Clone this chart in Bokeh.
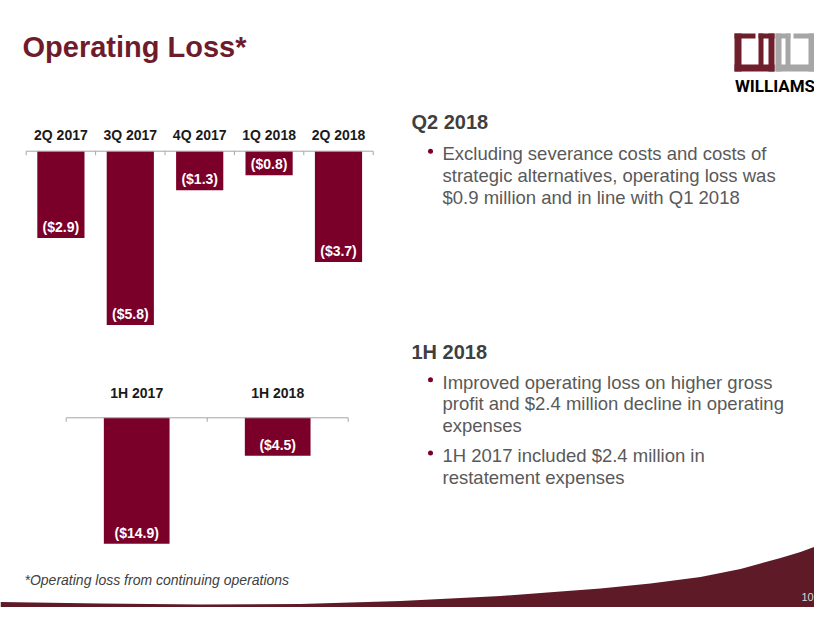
import math
from bokeh.plotting import figure
from bokeh.models import Range1d, ColumnDataSource
from bokeh.core.properties import value
from bokeh.embed import file_html
from bokeh.resources import INLINE

# ---------------- data ----------------
quarters = ["2Q 2017", "3Q 2017", "4Q 2017", "1Q 2018", "2Q 2018"]
quarter_loss = [-2.9, -5.8, -1.3, -0.8, -3.7]
halves = ["1H 2017", "1H 2018"]
half_loss = [-14.9, -4.5]

title = "Operating Loss*"
footnote = "*Operating loss from continuing operations"
page_no = "10"
logo_word = "WILLIAMS"
q2_heading = "Q2 2018"
q2_bullets = [["Excluding severance costs and costs of",
               "strategic alternatives, operating loss was",
               "$0.9 million and in line with Q1 2018"]]
h1_heading = "1H 2018"
h1_bullets = [["Improved operating loss on higher gross",
               "profit and $2.4 million decline in operating",
               "expenses"],
              ["1H 2017 included $2.4 million in",
               "restatement expenses"]]

# ---------------- style ----------------
FONT = value("Liberation Sans")
BAR = "#7B0029"
TITLE_C = "#6E1C2C"
SWOOSH = "#5E1B27"
LOGO_RED = "#6E1F2B"
LOGO_GRAY = "#A6A6A6"
AXIS_C = "#A6A6A6"
HEAD_C = "#3F3F3F"
BODY_C = "#595959"

W, H = 814, 607
PX_L, PX_R, PX_T, PX_B = 0, W, 0, H

p = figure(width=W, height=H, x_range=Range1d(PX_L, PX_R), y_range=Range1d(PX_B, PX_T),
           output_backend="svg", toolbar_location=None, min_border=0,
           x_axis_location=None, y_axis_location=None, outline_line_color=None,
           background_fill_color="white", border_fill_color="white")
p.grid.visible = False


def xr(v0, p0, v1, p1):
    k = (p1 - p0) / (v1 - v0)
    return Range1d(v0 + (PX_L - p0) / k, v0 + (PX_R - p0) / k)


def yr(v0, p0, v1, p1):
    k = (p1 - p0) / (v1 - v0)
    return Range1d(v0 + (PX_B - p0) / k, v0 + (PX_T - p0) / k)


p.extra_x_ranges = {"qx": xr(-0.5, 25.7, 4.5, 372.7), "hx": xr(-0.5, 65.7, 1.5, 347.7)}
p.extra_y_ranges = {"qy": yr(0, 150.7, -5.8, 324.5), "hy": yr(0, 417.3, -14.9, 543.3)}

# ---------------- swoosh footer ----------------
sw_x = [0, 100, 200, 300, 400, 500, 560, 600, 650, 700, 740, 760, 780, 800, 815, 830, 830, 0]
sw_y = [601.5, 603, 604, 603.5, 600.5, 595.5, 591, 588, 583, 576.5, 568.5, 563, 557.5, 551.5, 546, 540, 630, 630]
p.patch(sw_x, sw_y, fill_color=SWOOSH, line_color=None)


def bar_chart(cats, vals, xname, yname, width, cat_off, val_off):
    idx = list(range(len(cats)))
    src = ColumnDataSource(dict(x=idx, v=vals, cat=cats,
                                lab=["(${:.1f})".format(abs(v)) for v in vals]))
    p.vbar(x="x", top=0, bottom="v", width=width, source=src, fill_color=BAR,
           line_color=None, x_range_name=xname, y_range_name=yname)
    bounds = [i - 0.5 for i in range(len(cats) + 1)]
    p.segment(x0=bounds[0], y0=0, x1=bounds[-1], y1=0, line_color=AXIS_C, line_width=1,
              x_range_name=xname, y_range_name=yname)
    p.ray(x=bounds, y=[0] * len(bounds), length=4, length_units="screen", angle=-math.pi / 2,
          line_color=AXIS_C, line_width=1, x_range_name=xname, y_range_name=yname)
    p.text(x="x", y=0, text="cat", source=src, y_offset=cat_off, text_align="center",
           text_baseline="middle", text_font=FONT, text_font_style="bold",
           text_font_size="14px", text_color="#1A1A1A", x_range_name=xname, y_range_name=yname)
    p.text(x="x", y="v", text="lab", source=src, y_offset=val_off, text_align="center",
           text_baseline="middle", text_font=FONT, text_font_style="bold",
           text_font_size="14px", text_color="white", x_range_name=xname, y_range_name=yname)


bar_chart(quarters, quarter_loss, "qx", "qy", 0.68, -16.7, -11.5)
bar_chart(halves, half_loss, "hx", "hy", 0.466, -25, -11.3)

# ---------------- title ----------------
p.text(x=[22], y=[46], text=[title], text_align="left", text_baseline="middle",
       text_font=FONT, text_font_style="bold", text_font_size="29px", text_color=TITLE_C)

# ---------------- logo ----------------
red_parts = [(734, 741, 33, 71), (734, 774, 64, 71), (734, 755, 33, 38),
             (758, 774, 33, 38), (758, 763, 33, 65), (768, 774, 33, 71)]
gray_parts = [(808, 814, 33, 71), (775, 814, 64, 71), (793, 814, 33, 38),
              (775, 790, 33, 38), (785, 790, 33, 65), (775, 781, 33, 71)]
for parts, col in ((red_parts, LOGO_RED), (gray_parts, LOGO_GRAY)):
    p.quad(left=[a[0] for a in parts], right=[a[1] for a in parts],
           top=[a[2] for a in parts], bottom=[a[3] for a in parts],
           fill_color=col, line_color=None)
p.text(x=[774.5], y=[85], text=[logo_word], text_align="center", text_baseline="middle",
       text_font=value("Roboto"), text_font_style="bold",
       text_font_size="17px", text_color="black")

# ---------------- commentary ----------------
def block(heading, bullets, head_y, first_y, step=21.7, gap=8.2):
    p.text(x=[411], y=[head_y], text=[heading], text_align="left", text_baseline="middle",
           text_font=FONT, text_font_style="bold", text_font_size="20px", text_color=HEAD_C)
    y = first_y
    xs, ys, ts, bx, by = [], [], [], [], []
    for lines in bullets:
        bx.append(430)
        by.append(y - 2.5)
        for ln in lines:
            xs.append(442)
            ys.append(y)
            ts.append(ln)
            y += step
        y += gap
    p.text(x=xs, y=ys, text=ts, text_align="left", text_baseline="middle",
           text_font=FONT, text_font_size="18.5px", text_color=BODY_C)
    p.scatter(x=bx, y=by, size=5, marker="circle", fill_color=BAR, line_color=None)


block(q2_heading, q2_bullets, 121.7, 153.3)
block(h1_heading, h1_bullets, 351.7, 381.7)

# ---------------- footnote & page number ----------------
p.text(x=[24], y=[579], text=[footnote], text_align="left", text_baseline="middle",
       text_font=FONT, text_font_style="italic", text_font_size="14px", text_color="#404040")
p.text(x=[807], y=[596], text=[page_no], text_align="center", text_baseline="middle",
       text_font=FONT, text_font_size="11px", text_color="#D9D9D9")

open("out.html", "w").write(file_html(p, INLINE))
